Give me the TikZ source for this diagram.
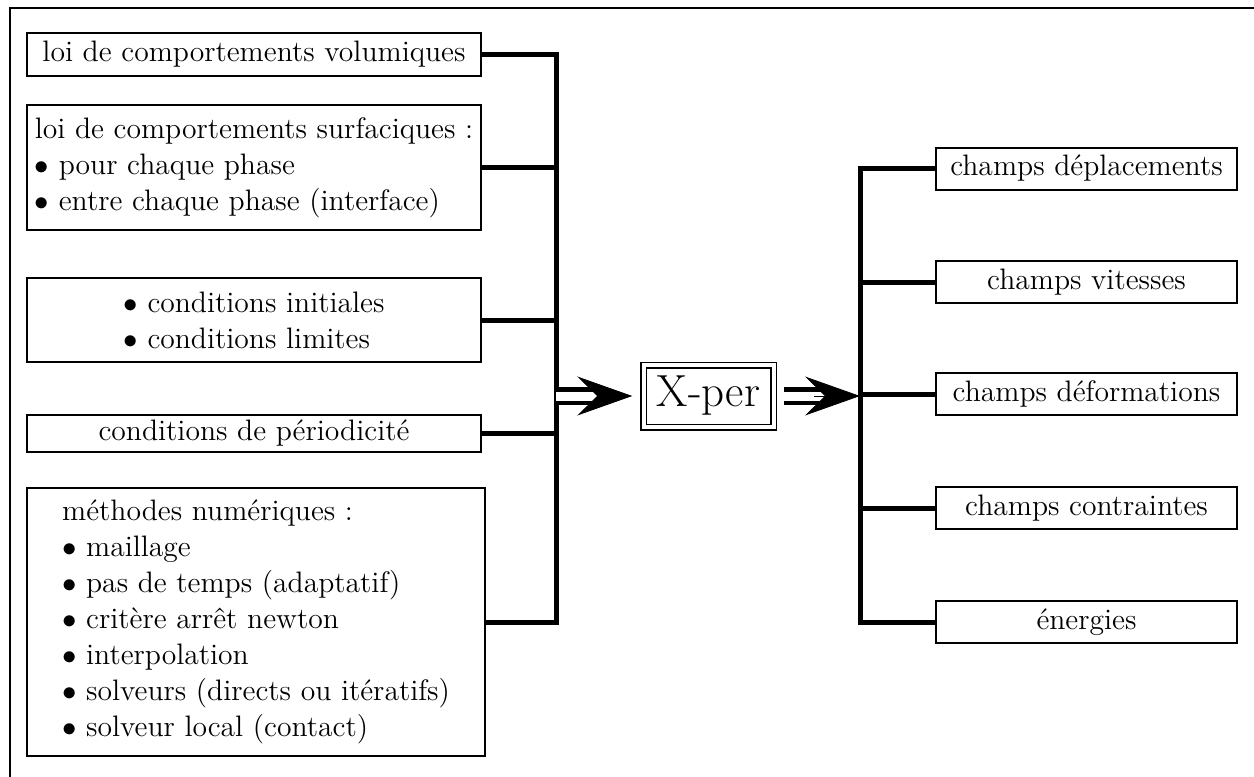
\documentclass[tikz,border=0pt]{standalone}
\usetikzlibrary{arrows.meta,calc}
\begin{document}
\begin{tikzpicture}[x=0.5pt,y=-0.5pt,
  box/.style={draw, line width=1pt, inner sep=2pt, font=\fontsize{14.8}{18}\selectfont},
  lbox/.style={box, minimum width=227pt, align=left},
  rbox/.style={box, minimum width=150.5pt, minimum height=21pt},
  conn/.style={line width=2.5pt},
  busline/.style={line width=2.5pt, line cap=rect},
  dbl/.style={double, double distance=4.5pt, line width=2.25pt},
  headtip/.style={line width=0.4pt, -{Stealth[length=27.5pt,width=19.5pt,inset=10pt]}}]
\useasboundingbox (0,0) rectangle (1254,777);
\begin{scope}
  \clip (0,0) rectangle (1254,777);
  \draw[line width=1pt] (10,8) rectangle (1300,830);
\end{scope}

% left boxes
\node[lbox, minimum height=21.5pt] (L1) at (254,54.5) {loi de comportements volumiques};
\node[lbox, minimum height=62.5pt] (L2) at (254,167.5) {loi de comportements surfaciques :\\ $\bullet$ pour chaque phase\\ $\bullet$ entre chaque phase (interface)};
\node[lbox, minimum height=42pt] (L3) at (254,320) {$\bullet$ conditions initiales\\ $\bullet$ conditions limites};
\node[lbox, minimum height=18.5pt] (L4) at (254,433.5) {conditions de périodicité};
\node[lbox, minimum width=229pt, minimum height=134pt] (L5) at (256,622) {méthodes numériques :\\ $\bullet$ maillage\\ $\bullet$ pas de temps (adaptatif)\\ $\bullet$ critère arrêt newton\\ $\bullet$ interpolation\\ $\bullet$ solveurs (directs ou itératifs)\\ $\bullet$ solveur local (contact)};

% central node
\node[draw, double, double distance=2pt, line width=0.75pt, minimum width=65pt, minimum height=31pt, inner sep=0pt, font=\fontsize{22.5}{26}\selectfont] (X) at (708.5,396) {X-per};

% right boxes
\node[rbox] (R1) at (1086.5,168.5) {champs déplacements};
\node[rbox] (R2) at (1086.5,282) {champs vitesses};
\node[rbox] (R3) at (1086.5,394) {champs déformations};
\node[rbox] (R4) at (1086.5,508) {champs contraintes};
\node[rbox] (R5) at (1086.5,622) {énergies};

% buses
\coordinate (lb) at (556,0);
\coordinate (rb) at (860,0);
\draw[busline] (L1.east -| lb) -- (L5.east -| lb);
\draw[busline] (R1.west -| rb) -- (R5.west -| rb);
\foreach \n in {L1,L2,L3,L4,L5} \draw[conn] (\n.east) -- (\n.east -| lb);
\foreach \n in {R1,R2,R3,R4,R5} \draw[conn] (\n.west) -- (\n.west -| rb);

% arrows
\coordinate (la) at (lb |- X.west);
\coordinate (ra) at (rb |- X.east);
\draw[dbl] (la) -- ++(47,0);
\draw[headtip] ($(X.west)+(-40,0)$) -- ($(X.west)+(-10.5,0)$);
\draw[dbl] ($(X.east)+(9.5,0)$) -- ++(47,0);
\draw[headtip] ($(X.east)+(40,0)$) -- (ra);
\end{tikzpicture}
\end{document}
